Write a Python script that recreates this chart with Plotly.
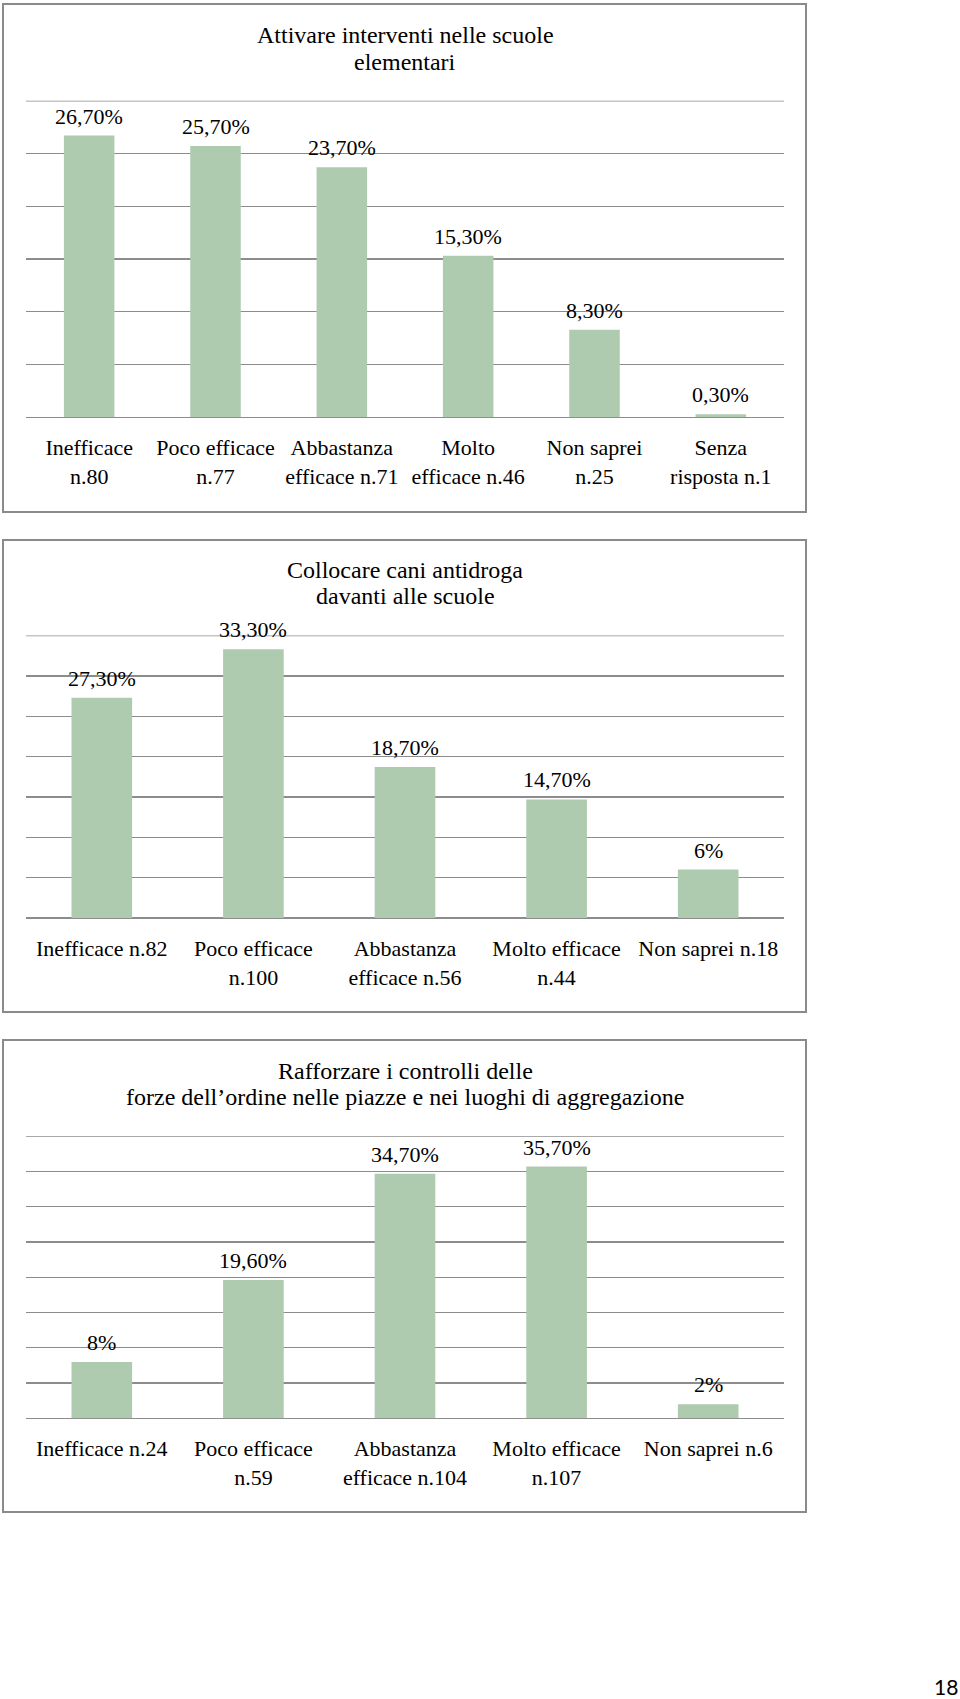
import plotly.graph_objects as go

W, H = 960, 1699

# ---- data ----
cats1 = ["Inefficace<br>n.80", "Poco efficace<br>n.77", "Abbastanza<br>efficace n.71",
         "Molto<br>efficace n.46", "Non saprei<br>n.25", "Senza<br>risposta n.1"]
vals1 = [26.7, 25.7, 23.7, 15.3, 8.3, 0.3]
labs1 = ["26,70%", "25,70%", "23,70%", "15,30%", "8,30%", "0,30%"]
title1 = ["Attivare interventi nelle scuole", "elementari"]

cats2 = ["Inefficace n.82", "Poco efficace<br>n.100", "Abbastanza<br>efficace n.56",
         "Molto efficace<br>n.44", "Non saprei n.18"]
vals2 = [27.3, 33.3, 18.7, 14.7, 6.0]
labs2 = ["27,30%", "33,30%", "18,70%", "14,70%", "6%"]
title2 = ["Collocare cani antidroga", "davanti alle scuole"]

cats3 = ["Inefficace n.24", "Poco efficace<br>n.59", "Abbastanza<br>efficace n.104",
         "Molto efficace<br>n.107", "Non saprei n.6"]
vals3 = [8.0, 19.6, 34.7, 35.7, 2.0]
labs3 = ["8%", "19,60%", "34,70%", "35,70%", "2%"]
title3 = ["Rafforzare i controlli delle",
          "forze dell’ordine nelle piazze e nei luoghi di aggregazione"]

yranges = [30, 35, 40]
page_number = "18"

# ---- style ----
BAR = "#AECBB0"
GRID = "#8c8c8c"
BORDER = "#8a8a8a"
FONT = "Liberation Serif"
FS = 22
TFS = 24

def yp(py):
    return 1 - py / H

def xp(px):
    return px / W

# pixel geometry of each panel
panels = [
    dict(top=100.7, base=417.3, btop=4, bbot=512, t1=35, t2=62),
    dict(top=635.6, base=918.0, btop=540, bbot=1012, t1=570, t2=596),
    dict(top=1136.3, base=1418.3, btop=1040, bbot=1512, t1=1070.7, t2=1096.7),
]
data = [(cats1, vals1, labs1, title1), (cats2, vals2, labs2, title2), (cats3, vals3, labs3, title3)]

fig = go.Figure()
annotations = []
shapes = []
for i, ((cats, vals, labs, title), p, yr) in enumerate(zip(data, panels, yranges)):
    n = "" if i == 0 else str(i + 1)
    fig.add_trace(go.Bar(x=cats, y=vals, marker=dict(color=BAR, line=dict(width=0)),
                         xaxis="x" + n, yaxis="y" + n, showlegend=False, hoverinfo="skip"))
    fig.update_layout(**{
        "xaxis" + n: dict(domain=[xp(26), xp(784)], anchor="y" + n, showgrid=False,
                          showline=False, zeroline=False, ticks="", ticklabelstandoff=15,
                          tickfont=dict(family=FONT, size=FS, color="black"),
                          fixedrange=True, categoryorder="array", categoryarray=cats),
        "yaxis" + n: dict(domain=[yp(p["base"]), yp(p["top"])], anchor="x" + n,
                          range=[0, yr], dtick=5, showgrid=True, gridcolor=GRID,
                          gridwidth=1.3, zeroline=True, zerolinecolor=GRID, zerolinewidth=1.3,
                          showticklabels=False, ticks="", fixedrange=True),
    })
    # top gridline at the range maximum (plotly omits grid lines on the plot edge)
    shapes.append(dict(type="line", xref="x" + n + " domain", yref="y" + n,
                       x0=0, x1=1, y0=yr, y1=yr, line=dict(color=GRID, width=1.5), layer="below"))
    for c, v, t in zip(cats, vals, labs):
        annotations.append(dict(x=c, y=v, xref="x" + n, yref="y" + n, text=t,
                                showarrow=False, yanchor="bottom", yshift=5,
                                font=dict(family=FONT, size=FS, color="black")))
    for line, ty in zip(title, (p["t1"], p["t2"])):
        annotations.append(dict(x=xp(405), y=yp(ty), xref="paper", yref="paper",
                                text=line, showarrow=False, xanchor="center", yanchor="middle",
                                font=dict(family=FONT, size=TFS, color="black")))
    shapes.append(dict(type="rect", xref="paper", yref="paper",
                       x0=xp(3), x1=xp(806), y0=yp(p["bbot"]), y1=yp(p["btop"]),
                       line=dict(color=BORDER, width=2), fillcolor="rgba(0,0,0,0)", layer="above"))

annotations.append(dict(x=xp(946), y=yp(1686), xref="paper", yref="paper", text=page_number,
                        showarrow=False, xanchor="center", yanchor="middle",
                        font=dict(family="Lato", size=21, color="black")))

fig.update_layout(width=W, height=H, autosize=False, margin=dict(l=0, r=0, t=0, b=0),
                  paper_bgcolor="white", plot_bgcolor="white", bargap=0.6,
                  annotations=annotations, shapes=shapes)

fig.write_html("out.html", config={"displayModeBar": False, "staticPlot": True},
               post_script="document.body.style.margin='0';document.body.style.overflow='hidden';")
